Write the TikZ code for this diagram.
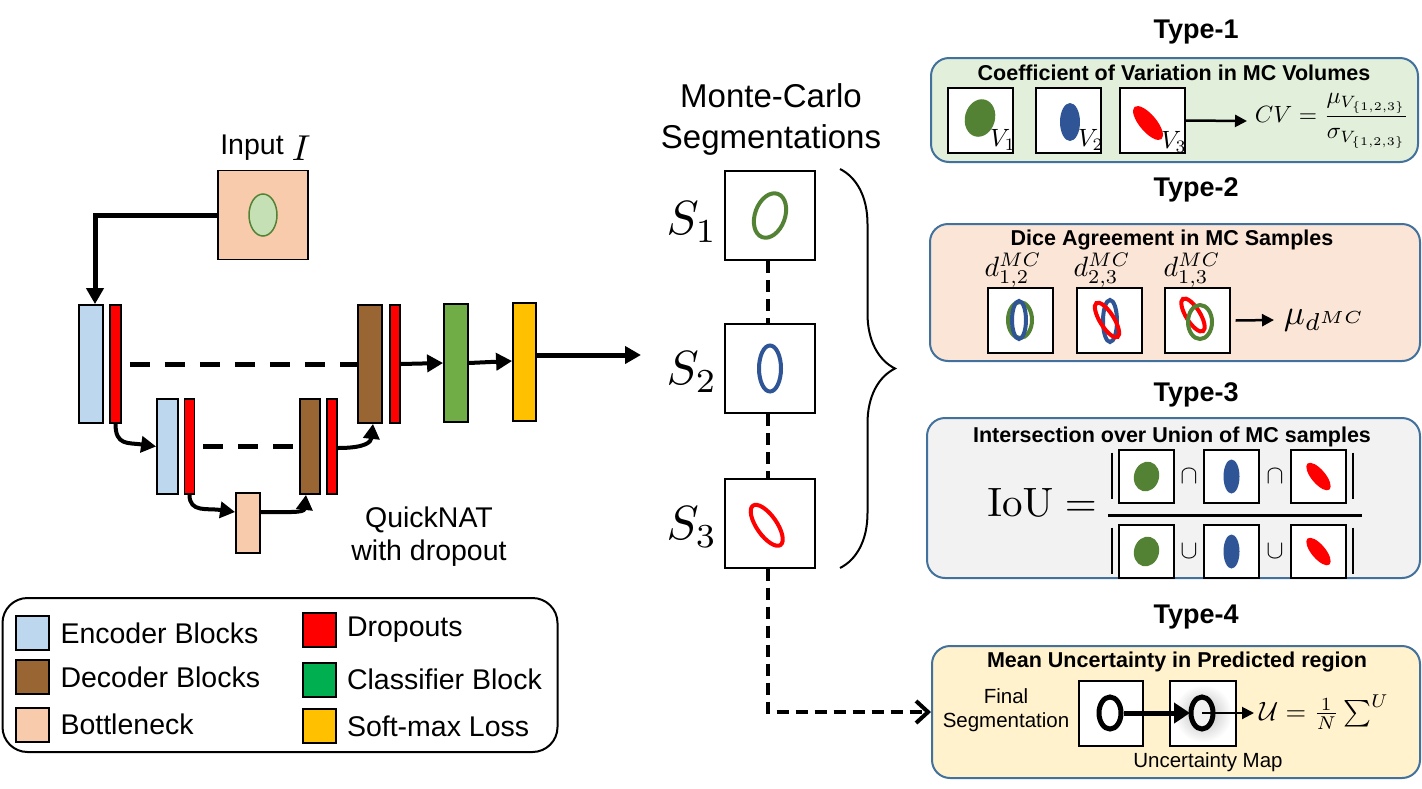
\documentclass[tikz,border=0pt]{standalone}
\usepackage[no-math]{fontspec}
\setmainfont{Liberation Sans}
\usetikzlibrary{arrows.meta,positioning,decorations.pathreplacing}
\definecolor{encblue}{HTML}{BDD7EE}
\definecolor{decbrown}{HTML}{996633}
\definecolor{bottpeach}{HTML}{F8CBAD}
\definecolor{dropred}{HTML}{FF0000}
\definecolor{clsgreen}{HTML}{70AD47}
\definecolor{keygreen}{HTML}{00B050}
\definecolor{softyellow}{HTML}{FFC000}
\definecolor{seggreen}{HTML}{548235}
\definecolor{segblue}{HTML}{2F5597}
\definecolor{inpgreen}{HTML}{C5E0B4}
\definecolor{boxblue}{HTML}{41719C}
\definecolor{fillone}{HTML}{E2EFDA}
\definecolor{filltwo}{HTML}{FBE5D6}
\definecolor{fillthree}{HTML}{F2F2F2}
\definecolor{fillfour}{HTML}{FFF2CC}
\tikzset{
  blk/.style={draw, line width=1.8pt, inner sep=0pt},
  imgbox/.style={draw, line width=2pt, fill=white, inner sep=0pt, minimum width=65pt, minimum height=65pt},
  smallbox/.style={imgbox, minimum width=55pt, minimum height=53pt},
  typebox/.style={draw=boxblue, line width=2pt, rounded corners=18pt, inner sep=0pt},
  typehead/.style={font=\bfseries\fontsize{27}{32}\selectfont},
  boxtitle/.style={font=\bfseries\fontsize{21.5}{25}\selectfont},
  lbl/.style={font=\fontsize{28.5}{33}\selectfont},
  smalltxt/.style={font=\fontsize{20.5}{24}\selectfont},
  mathlbl/.style={font=\normalsize, inner sep=0pt},
  arr/.style={line width=4pt, -{Triangle[length=16pt,width=17pt]}},
  curvearr/.style={line width=4pt, -{Triangle[length=15pt,width=16pt]}},
  thinarr/.style={line width=2.5pt, -{Triangle[length=12pt,width=12pt]}},
  skipline/.style={line width=5pt, dash pattern=on 20pt off 15pt},
  segline/.style={line width=4pt, dash pattern=on 12pt off 7pt},
  swatch/.style={draw, line width=2pt, minimum width=33pt, minimum height=34pt, inner sep=0pt},
  segring/.style={line width=4pt},
}
\begin{document}
\begin{tikzpicture}[x=1pt, y=-1pt]
\useasboundingbox (0,0) rectangle (1422,788);

% input image
\node[blk, fill=bottpeach, minimum width=90pt, minimum height=89pt] (inp) at (263,215) {};
\draw[seggreen, fill=inpgreen, line width=1.5pt] (inp.center) ellipse [x radius=14, y radius=21];
\node[lbl] (inplbl) at (252,148) {Input};
\node[mathlbl, scale=3.6, right=4pt of inplbl] (inpI) {$I$};

% QuickNAT blocks
\node[blk, fill=encblue, minimum width=24pt, minimum height=118pt] (enc1) at (91,364) {};
\node[blk, fill=dropred, minimum width=11pt, minimum height=118pt] (drop1) at (115.5,364) {};
\node[blk, fill=encblue, minimum width=21pt, minimum height=95pt] (enc2) at (167.5,446.5) {};
\node[blk, fill=dropred, minimum width=10pt, minimum height=95pt] (drop2) at (189.5,446.5) {};
\node[blk, fill=bottpeach, minimum width=24pt, minimum height=60pt] (bott) at (248,523) {};
\node[blk, fill=decbrown, minimum width=20pt, minimum height=95pt] (dec2) at (310,446.5) {};
\node[blk, fill=dropred, minimum width=10pt, minimum height=95pt] (drop3) at (332,446.5) {};
\node[blk, fill=decbrown, minimum width=24pt, minimum height=118pt] (dec1) at (370,364) {};
\node[blk, fill=dropred, minimum width=10pt, minimum height=118pt] (drop4) at (395,364) {};
\node[blk, fill=clsgreen, minimum width=24pt, minimum height=118pt] (cls) at (456,363) {};
\node[blk, fill=softyellow, minimum width=23pt, minimum height=118pt] (soft) at (524.5,362) {};
\node[lbl, align=center] (qnat) at (429,537) {QuickNAT\\with dropout};

\draw[arr, line width=5pt] (inp.west) -| ([xshift=4pt]enc1.north);
\draw[skipline, shorten <=8pt] (drop1.east) -- (dec1.west);
\draw[skipline, shorten <=8pt] (drop2.east) -- (dec2.west);
\draw[curvearr] (drop1.south) .. controls +(0,22) and +(-28,-4) .. (enc2.west);
\draw[curvearr] (drop2.south) .. controls +(0,18) and +(-28,-4) .. ([yshift=11pt]bott.west);
\draw[curvearr] ([yshift=11pt]bott.east) .. controls +(28,0) and +(-2,18) .. ([xshift=-4pt]dec2.south);
\draw[curvearr] ([yshift=-1.5pt]drop3.east) .. controls +(28,0) and +(-2,18) .. ([xshift=3pt]dec1.south);
\draw[arr] (drop4.east) -- (cls.west);
\draw[arr] (cls.east) -- ([yshift=1pt]soft.west);
\coordinate (segin) at (641,355);
\draw[arr, line width=5pt] ([yshift=7pt]soft.east) -- (segin);

% Monte-Carlo segmentations
\node[font=\fontsize{33}{41}\selectfont, align=center] (mctitle) at (771,119) {Monte-Carlo\\Segmentations};
\node[imgbox, minimum width=90pt, minimum height=89pt] (s1) at (770,215.5) {};
\node[imgbox, minimum width=90pt, minimum height=89pt] (s2) at (770,368.5) {};
\node[imgbox, minimum width=90pt, minimum height=89pt] (s3) at (770,523) {};
\draw[seggreen, segring, rotate around={-20:(s1.center)}] (s1.center) ellipse [x radius=15, y radius=23];
\draw[segblue, segring] (s2.center) ellipse [x radius=11, y radius=23];
\draw[dropred, segring, rotate around={35:([xshift=-4pt]s3.center)}] ([xshift=-4pt]s3.center) ellipse [x radius=10, y radius=24];
\node[mathlbl, scale=4.8] (s1lbl) at (692,222) {$S_1$};
\node[mathlbl, scale=4.8] (s2lbl) at (692,372) {$S_2$};
\node[mathlbl, scale=4.8] (s3lbl) at (692,527) {$S_3$};
\draw[segline] ([xshift=-2pt]s1.south) -- ([xshift=-2pt]s2.north);
\draw[segline] ([xshift=-2pt]s2.south) -- ([xshift=-2pt]s3.north);
\draw[line width=2pt, decorate, decoration={brace, amplitude=55pt}] (840,169) -- (840,568);

% legend
\node[draw, line width=2pt, rounded corners=25pt, minimum width=555pt, minimum height=154pt] (legend) at (280,675) {};
\foreach \nm/\col/\yy/\txt in {enc/encblue/633/Encoder Blocks, dec/decbrown/677/Decoder Blocks, bot/bottpeach/724.5/Bottleneck} {
  \node[swatch, fill=\col] (key\nm) at (32.5,\yy) {};
  \node[lbl, right=7pt of key\nm] (txt\nm) {\txt};
}
\foreach \nm/\col/\yy/\txt in {drop/dropred/629.5/Dropouts, cls/keygreen/679.5/Classifier Block, soft/softyellow/726/Soft-max Loss} {
  \node[swatch, fill=\col] (key\nm) at (319,\yy) {};
  \node[lbl, right=7pt of key\nm] (txt\nm) {\txt};
}

% Type-1
\node[typehead] (head1) at (1196,32) {Type-1};
\node[typebox, fill=fillone, minimum width=487pt, minimum height=104pt] (t1box) at (1174.5,110) {};
\node[boxtitle] (t1title) at (1174,73) {Coefficient of Variation in MC Volumes};
\node[imgbox] (v1) at (980.5,120.5) {};
\node[imgbox] (v2) at (1068,120.5) {};
\node[imgbox] (v3) at (1152,120.5) {};
\fill[seggreen, rotate around={-15:(980,118)}] (980,118) ellipse [x radius=15, y radius=19];
\fill[segblue] (1070,122) ellipse [x radius=10, y radius=19];
\fill[dropred, rotate around={40:(1148,123)}] (1148,123) ellipse [x radius=8.5, y radius=21];
\node[mathlbl, scale=2.5] (v1lbl) at (1003,140) {$V_1$};
\node[mathlbl, scale=2.5] (v2lbl) at (1091,140) {$V_2$};
\node[mathlbl, scale=2.5] (v3lbl) at (1174,142) {$V_3$};
\coordinate (cvin) at (1247,121);
\draw[thinarr] (v3.east) -- (cvin);
\node[mathlbl, scale=2.35] (cv) at (1332,121) {$\displaystyle CV = \frac{\mu_{V_{\{1,2,3\}}}}{\sigma_{V_{\{1,2,3\}}}}$};

% Type-2
\node[typehead] (head2) at (1196,190) {Type-2};
\node[typebox, fill=filltwo, minimum width=490pt, minimum height=137pt] (t2box) at (1175,292.5) {};
\node[boxtitle] (t2title) at (1172,240) {Dice Agreement in MC Samples};
\node[imgbox] (d1) at (1020.5,320.5) {};
\node[imgbox] (d2) at (1109,320.5) {};
\node[imgbox] (d3) at (1197,320.5) {};
\draw[seggreen, segring] (1020,320) ellipse [x radius=12, y radius=18];
\draw[segblue, segring] (1019,320) ellipse [x radius=7, y radius=19];
\draw[segblue, segring] (1110,321) ellipse [x radius=7, y radius=21];
\draw[dropred, segring, rotate around={32:(1107,320)}] (1107,320) ellipse [x radius=7, y radius=20];
\draw[dropred, segring, rotate around={32:(1193,315)}] (1193,315) ellipse [x radius=7, y radius=19];
\draw[seggreen, segring] (1200,322) ellipse [x radius=12, y radius=17];
\foreach \nm/\xx/\ij in {a/1013/{1,2}, b/1102/{2,3}, c/1192/{1,3}} {
  \node[mathlbl, scale=2.8] (dl\nm) at (\xx,270) {$d^{MC}_{\ij}$};
}
\coordinate (muin) at (1274,320);
\draw[thinarr] ([xshift=5pt]d3.east) -- (muin);
\node[mathlbl, scale=3.5] (mud) at (1325,320) {$\mu_{d^{MC}}$};

% Type-3
\node[typehead] (head3) at (1196,395) {Type-3};
\node[typebox, fill=fillthree, minimum width=493pt, minimum height=160pt] (t3box) at (1173.5,498) {};
\node[boxtitle] (t3title) at (1172,437) {Intersection over Union of MC samples};
\node[mathlbl, scale=4.1] (iou) at (1042,502) {$\mathrm{IoU} =$};
\foreach \row/\yy/\op in {top/476.5/\cap, bot/551.5/\cup} {
  \node[smallbox] (g\row) at (1146.5,\yy) {};
  \node[smallbox] (b\row) at (1231.5,\yy) {};
  \node[smallbox] (r\row) at (1318.5,\yy) {};
  \fill[seggreen, rotate around={-15:(g\row.center)}] (g\row.center) ellipse [x radius=12.5, y radius=15];
  \fill[segblue] (b\row.center) ellipse [x radius=8, y radius=17];
  \fill[dropred, rotate around={40:(r\row.center)}] (r\row.center) ellipse [x radius=7, y radius=17];
  \node[mathlbl, scale=2.6] (opa\row) at (1189,\yy) {$\op$};
  \node[mathlbl, scale=2.6] (opb\row) at (1275,\yy) {$\op$};
  \draw[line width=1.5pt] (1112,\yy-24) -- (1112,\yy+22);
  \draw[line width=1.5pt] (1353,\yy-24) -- (1353,\yy+22);
}
\draw[line width=3pt] (1108,515) -- (1362,515);

% Type-4
\node[typehead] (head4) at (1196,617) {Type-4};
\node[typebox, fill=fillfour, minimum width=488pt, minimum height=132pt] (t4box) at (1176,712) {};
\node[boxtitle] (t4title) at (1177,662) {Mean Uncertainty in Predicted region};
\node[smalltxt, align=center] (finlbl) at (1006,710) {Final\\Segmentation};
\node[imgbox, minimum width=64pt] (u1) at (1111,713.5) {};
\node[imgbox, minimum width=66pt] (u2) at (1203,713.5) {};
\shade[inner color=gray!55, outer color=white] (u2.center) circle [radius=29];
\fill[white!90!gray] (1202,713) ellipse [x radius=9, y radius=13];
\draw[line width=5pt] (1110,713) ellipse [x radius=11, y radius=16];
\draw[line width=5pt] (1202,713) ellipse [x radius=11, y radius=16];
\draw[line width=5pt, -{Triangle[length=16pt,width=20pt]}] (1124,713) -- (1190,713);
\coordinate (uin) at (1254,713);
\draw[line width=2pt, -{Triangle[length=12pt,width=12pt]}] (1202,713) -- (uin);
\node[mathlbl, scale=2.65] (umean) at (1324,712) {$\mathcal{U} = \frac{1}{N}\sum^{U}$};
\node[smalltxt] (umap) at (1208,762) {Uncertainty Map};
\draw[segline, -{Straight Barb[length=12pt,width=22pt]}] ([xshift=-2pt]s3.south) |- (t4box.west);
\end{tikzpicture}
\end{document}
